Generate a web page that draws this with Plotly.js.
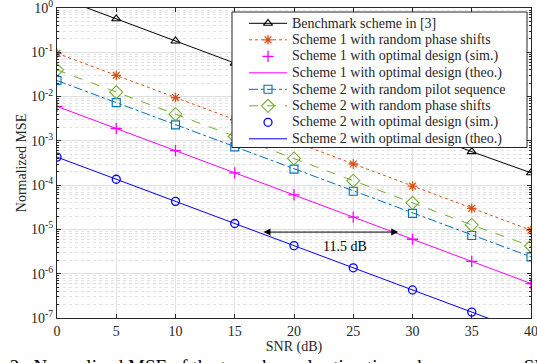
<!DOCTYPE html>
<html><head><meta charset="utf-8">
<script src="https://cdn.plot.ly/plotly-3.0.1.min.js"></script>
<style>html,body{margin:0;padding:0;background:#fff;overflow:hidden}</style></head>
<body><div id="chart" style="width:537px;height:363px"></div>
<script>
const snr = [0, 5, 10, 15, 20, 25, 30, 35, 40];
const benchmark = [1.8, 0.57, 0.18, 0.057, 0.018, 0.0057, 0.0018, 0.00057, 0.00019];
const s1Random = [0.095, 0.030, 0.0095, 0.0030, 0.00095, 0.00030, 0.000095, 0.000030, 0.0000096];
const s1OptSim = [0.006, 0.0019, 0.0006, 0.00019, 0.00006, 0.000019, 0.000006, 0.0000019, 0.0000006];
const s1OptTheo = [0.006, 0.0019, 0.0006, 0.00019, 0.00006, 0.000019, 0.000006, 0.0000019, 0.0000006];
const s2Pilot = [0.023, 0.0073, 0.0023, 0.00073, 0.00023, 0.000073, 0.000023, 0.0000073, 0.0000024];
const s2Random = [0.040, 0.0126, 0.0040, 0.00126, 0.00040, 0.000126, 0.000040, 0.0000126, 0.0000042];
const s2OptSim = [4.3e-4, 1.36e-4, 4.3e-5, 1.36e-5, 4.3e-6, 1.36e-6, 4.3e-7, 1.36e-7, 4.3e-8];
const s2OptTheo = [4.3e-4, 1.36e-4, 4.3e-5, 1.36e-5, 4.3e-6, 1.36e-6, 4.3e-7, 1.36e-7, 4.3e-8];
const names = ['Benchmark scheme in [3]', 'Scheme 1 with random phase shifts',
  'Scheme 1 with optimal design (sim.)', 'Scheme 1 with optimal design (theo.)',
  'Scheme 2 with random pilot sequence', 'Scheme 2 with random phase shifts',
  'Scheme 2 with optimal design (sim.)', 'Scheme 2 with optimal design (theo.)'];
const yTickVals = [1e-7, 1e-6, 1e-5, 1e-4, 1e-3, 1e-2, 1e-1, 1];
const yTickText = ['10<sup>-7</sup>', '10<sup>-6</sup>', '10<sup>-5</sup>', '10<sup>-4</sup>',
  '10<sup>-3</sup>', '10<sup>-2</sup>', '10<sup>-1</sup>', '10<sup>0</sup>'];
const gapLabel = '11.5 dB';
const caption = 'Fig. 2.  Normalized MSE of the two channel estimation schemes versus SNR.';

const seriesY = [benchmark, s1Random, s1OptSim, s1OptTheo, s2Pilot, s2Random, s2OptSim, s2OptTheo];

const FONT = 'Liberation Serif, Times New Roman, serif';
const TXT = '#262626';
const styles = [
  {mode: 'lines+markers', line: {color: '#000000', width: 1}, marker: {symbol: 'triangle-up-open', size: 8, color: '#000000', line: {width: 1.1, color: '#000000'}}},
  {mode: 'lines+markers', line: {color: '#D95319', width: 1, dash: 'dot'}, marker: {symbol: 'asterisk-open', size: 8, color: '#D95319', line: {width: 1.3, color: '#D95319'}}},
  {mode: 'markers', marker: {symbol: 'cross-thin-open', size: 8, color: '#FF00FF', line: {width: 1.3, color: '#FF00FF'}}},
  {mode: 'lines', line: {color: '#FF00FF', width: 1}},
  {mode: 'lines+markers', line: {color: '#0072BD', width: 1, dash: 'dashdot'}, marker: {symbol: 'square-open', size: 8, color: '#0072BD', line: {width: 1.1, color: '#0072BD'}}},
  {mode: 'lines+markers', line: {color: '#77AC30', width: 1, dash: 'dash'}, marker: {symbol: 'diamond-open', size: 10, color: '#77AC30', line: {width: 1.1, color: '#77AC30'}}},
  {mode: 'markers', marker: {symbol: 'circle-open', size: 8, color: '#0000FF', line: {width: 1.3, color: '#0000FF'}}},
  {mode: 'lines', line: {color: '#0000FF', width: 1}}
];

const traces = [];
seriesY.forEach((ys, i) => {
  traces.push(Object.assign({x: snr, y: ys, name: names[i], type: 'scatter', showlegend: false, xaxis: 'x', yaxis: 'y'}, styles[i]));
});

// Legend drawn on an invisible overlay subplot measured in pixels
const LG = {left: 232, right: 527, top: 12, bottom: 147.5, lineX0: 249, lineX1: 287, textX: 290, row0: 23.3, rowStep: 16.5};
traces.push({x: [LG.left, LG.right, LG.right, LG.left, LG.left], y: [LG.top, LG.top, LG.bottom, LG.bottom, LG.top],
  xaxis: 'x2', yaxis: 'y2', mode: 'lines', fill: 'toself', fillcolor: '#ffffff', line: {color: '#262626', width: 1},
  showlegend: false, hoverinfo: 'skip', cliponaxis: false});
const annotations = [];
names.forEach((nm, i) => {
  const ry = LG.row0 + i * LG.rowStep;
  const st = styles[i];
  if (st.mode.indexOf('lines') >= 0) {
    traces.push({x: [LG.lineX0, LG.lineX1], y: [ry, ry], xaxis: 'x2', yaxis: 'y2', mode: 'lines', line: st.line, showlegend: false});
  }
  if (st.mode.indexOf('markers') >= 0) {
    traces.push({x: [(LG.lineX0 + LG.lineX1) / 2], y: [ry], xaxis: 'x2', yaxis: 'y2', mode: 'markers', marker: st.marker, showlegend: false});
  }
  annotations.push({x: LG.textX, y: ry, xref: 'x2', yref: 'y2', xanchor: 'left', yanchor: 'middle',
    text: nm, showarrow: false, font: {family: FONT, size: 14, color: TXT}});
});

const minorVals = [];
for (let e = -7; e < 0; e++) for (let m = 2; m <= 9; m++) minorVals.push(m * Math.pow(10, e));

annotations.push(
  {x: 28.8, y: -5.06, ax: 17.3, ay: -5.06, xref: 'x', yref: 'y', axref: 'x', ayref: 'y',
   text: '', showarrow: true, arrowhead: 2, arrowside: 'end+start', arrowsize: 1.4, arrowwidth: 1, arrowcolor: '#000000'},
  {x: 24.3, y: -5.38, xref: 'x', yref: 'y', text: gapLabel, showarrow: false,
   font: {family: FONT, size: 14, color: '#000000'}},
  {x: -0.178, y: -0.155, xref: 'paper', yref: 'paper', xanchor: 'left', yanchor: 'middle',
   text: caption, showarrow: false, font: {family: FONT, size: 19, color: '#000000'}}
);

const layout = {
  width: 537, height: 363,
  margin: {l: 57, r: 6, t: 8, b: 45},
  paper_bgcolor: '#ffffff', plot_bgcolor: '#ffffff',
  font: {family: FONT, size: 14, color: TXT},
  showlegend: false,
  xaxis: {range: [0, 40], dtick: 5, tick0: 0, showline: true, linecolor: TXT, linewidth: 1, mirror: 'ticks',
    ticks: 'inside', ticklen: 4, tickcolor: TXT, showgrid: true, gridcolor: '#e3e3e3', zeroline: false,
    tickfont: {family: FONT, size: 14, color: TXT}, ticklabeloverflow: 'allow',
    title: {text: 'SNR (dB)', standoff: 2, font: {family: FONT, size: 14, color: TXT}}},
  yaxis: {type: 'log', range: [-7, 0], tickmode: 'array', tickvals: yTickVals, ticktext: yTickText,
    showline: true, linecolor: TXT, linewidth: 1, mirror: 'ticks', ticklabeloverflow: 'allow',
    ticks: 'inside', ticklen: 4, tickcolor: TXT, showgrid: true, gridcolor: '#dedede', zeroline: false,
    tickfont: {family: FONT, size: 14, color: TXT},
    minor: {tickmode: 'array', tickvals: minorVals, ticks: 'inside', ticklen: 2, tickcolor: TXT,
      showgrid: true, gridcolor: '#e2e2e2', griddash: 'dot', gridwidth: 1},
    title: {text: 'Normalized MSE', standoff: 1, font: {family: FONT, size: 14, color: TXT}}},
  xaxis2: {overlaying: 'x', range: [57, 531], anchor: 'y2', visible: false, fixedrange: true},
  yaxis2: {overlaying: 'y', range: [318, 8], anchor: 'x2', visible: false, fixedrange: true},
  annotations: annotations
};
Plotly.newPlot('chart', traces, layout, {displayModeBar: false, staticPlot: true});
</script></body></html>
